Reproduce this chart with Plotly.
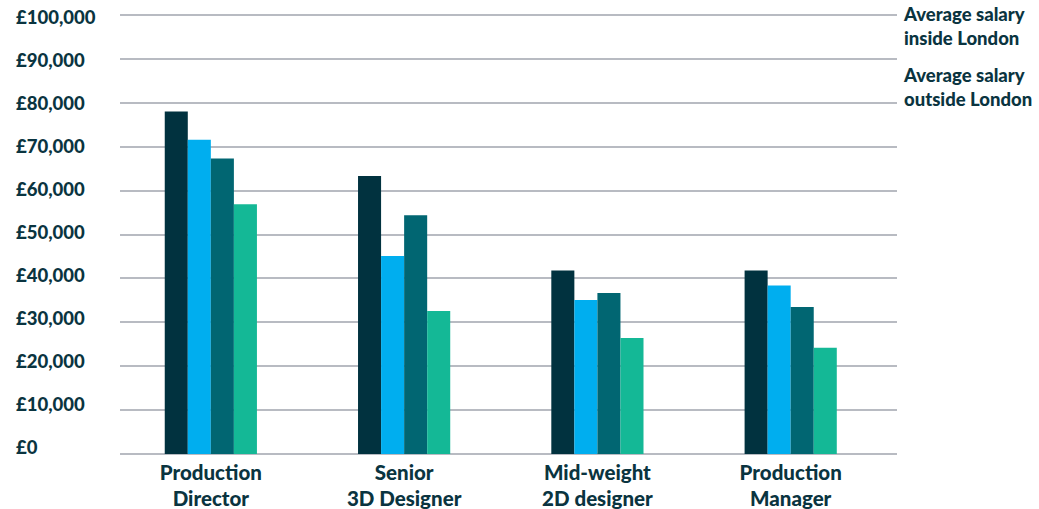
import plotly.graph_objects as go

categories = ["Production<br>Director", "Senior<br>3D Designer", "Mid-weight<br>2D designer", "Production<br>Manager"]
series_names = ["Series 1", "Series 2", "Series 3", "Series 4"]
series_1 = [78000, 63300, 41800, 41800]
series_2 = [71600, 45100, 35100, 38400]
series_3 = [67300, 54400, 36700, 33500]
series_4 = [56900, 32600, 26400, 24200]
tick_values = [0, 10000, 20000, 30000, 40000, 50000, 60000, 70000, 80000, 90000, 100000]
tick_labels = ["£0", "£10,000", "£20,000", "£30,000", "£40,000", "£50,000",
               "£60,000", "£70,000", "£80,000", "£90,000", "£100,000"]
legend_labels = ["Average salary<br>inside London", "Average salary<br>outside London"]

colors = ["#01323f", "#00aeef", "#016672", "#14b896"]
navy = "#0a3440"
font_family = "Lato, 'Open Sans', sans-serif"

fig = go.Figure()
for name, vals, c in zip(series_names, [series_1, series_2, series_3, series_4], colors):
    fig.add_trace(go.Bar(x=list(range(len(categories))), y=vals, name=name,
                         marker=dict(color=c, line=dict(width=0))))

annotations = []
n = len(tick_values)
for i, (v, t) in enumerate(zip(tick_values, tick_labels)):
    k = n - 1 - i  # index from top
    annotations.append(dict(xref="paper", yref="y", x=0, y=v, xshift=-106, yshift=-2 + 0.9 * k,
                            text=t, showarrow=False, xanchor="left", yanchor="middle",
                            font=dict(family=font_family, size=18.5, color=navy, weight=900)))
for yp, t in zip([0.972, 0.835], legend_labels):
    annotations.append(dict(xref="paper", yref="paper", x=1, y=yp, xshift=4,
                            text=t, showarrow=False, xanchor="left", yanchor="middle", align="left",
                            font=dict(family=font_family, size=18.5, color=navy, weight=900)))

fig.update_layout(
    width=1039, height=509,
    margin=dict(l=120, r=142, t=14, b=54, autoexpand=False),
    paper_bgcolor="white", plot_bgcolor="white",
    barmode="group", bargap=0.523, bargroupgap=0,
    showlegend=False,
    annotations=annotations,
    xaxis=dict(range=[-0.47, 3.55], tickvals=list(range(len(categories))), ticktext=categories,
               showgrid=False, zeroline=False, showline=False, ticks="", ticklabelstandoff=3,
               tickfont=dict(family=font_family, size=20.5, color=navy, weight=900)),
    yaxis=dict(range=[-230, 100230], tickvals=tick_values, showticklabels=False,
               showgrid=True, gridcolor="#b8bbc2", gridwidth=2, zeroline=False, showline=False),
)
fig.write_html("out.html", config={"displayModeBar": False},
               post_script="document.body.style.margin='0';document.body.style.overflow='hidden';")
